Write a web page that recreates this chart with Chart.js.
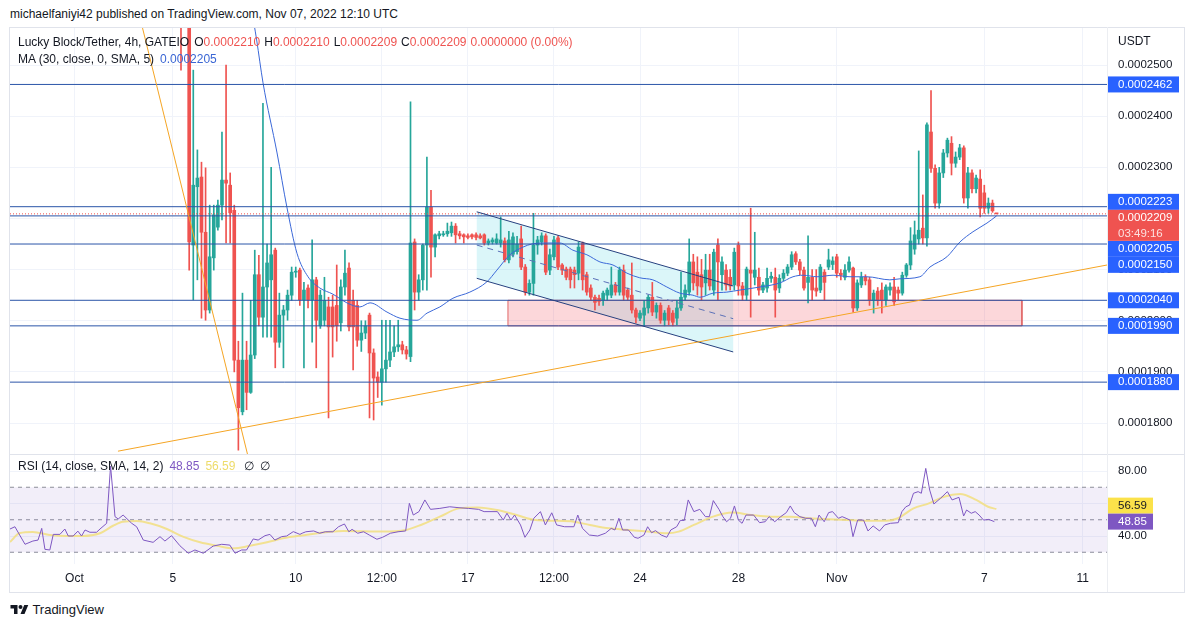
<!DOCTYPE html>
<html>
<head>
<meta charset="utf-8">
<script src="https://cdn.jsdelivr.net/npm/chart.js@4/dist/chart.umd.min.js"></script>
<style>
html,body{margin:0;padding:0;background:#fff;}
#wrap{position:relative;width:1194px;height:627px;overflow:hidden;font-family:"Liberation Sans",Arial,sans-serif;color:#131722;}
canvas{position:absolute;left:0;}
#main{top:27px;}
#rsi{top:454px;}
.t{position:absolute;white-space:nowrap;font-size:12px;line-height:14px;z-index:5;}
.t span{margin-left:6px;}
.t span.o{margin-left:4px;}
.ln{position:absolute;background:#e0e3eb;z-index:4;}
</style>
</head>
<body>
<div id="wrap">
  <div class="t" style="left:10px;top:7px;">michaelfaniyi42 published on TradingView.com, Nov 07, 2022 12:10 UTC</div>
  <canvas id="main" width="1194" height="427"></canvas>
  <canvas id="rsi" width="1194" height="138"></canvas>
  <div class="ln" style="left:9px;top:27px;width:1175px;height:1px;"></div>
  <div class="ln" style="left:9px;top:592px;width:1175px;height:1px;"></div>
  <div class="ln" style="left:9px;top:27px;width:1px;height:565px;"></div>
  <div class="ln" style="left:1184px;top:27px;width:1px;height:566px;"></div>
  <div class="ln" style="left:9px;top:454px;width:1175px;height:1px;"></div>
  <div class="ln" style="left:1107px;top:27px;width:1px;height:565px;background:#eceef2;"></div>
  <div class="t" style="left:18px;top:35px;">Lucky Block/Tether, 4h, GATEIO<span class="o" style="margin-left:5px">O<b style="font-weight:normal;color:#ef5350">0.0002210</b></span><span class="o">H<b style="font-weight:normal;color:#ef5350">0.0002210</b></span><span class="o">L<b style="font-weight:normal;color:#ef5350">0.0002209</b></span><span class="o">C<b style="font-weight:normal;color:#ef5350">0.0002209</b></span><span class="o" style="color:#ef5350">0.0000000 (0.00%)</span></div>
  <div class="t" style="left:18px;top:52px;">MA (30, close, 0, SMA, 5)<span style="color:#3a66d4">0.0002205</span></div>
  <div class="t" style="left:1118px;top:34px;">USDT</div>
  <div class="t" style="left:18px;top:459px;">RSI (14, close, SMA, 14, 2)<span style="color:#7e57c2">48.85</span><span style="color:#eedc6a">56.59</span><span style="margin-left:9px">∅</span><span>∅</span></div>
  <div class="t" style="left:10px;top:602px;font-size:13px;line-height:15px;">
    <svg width="19" height="13" viewBox="0 0 36 26" style="vertical-align:-2px"><path d="M14 22H7V11H0V4h14v18z M28 22h-8l7.5-18h8L28 22z" fill="#131722"/><circle cx="20" cy="8" r="4" fill="#131722"/></svg> TradingView
  </div>
</div>
<script>
// ---------------- DATA ----------------
// prices are written in units of 1e-7 USDT (e.g. 2209 = 0.0002209)
const PRICE_UNIT = 1e-7;
// time axis unit: days since Oct 1 2022 00:00 UTC
const lastCandleDay = 37.5;        // Nov 7 12:00 (4h candle)
const candleStepDays = 1 / 6;      // 4h

const opens = [2660,2600,2620,2148,2262,2281,2173,2021,2123,2183,2226,2275,2265,2216,1923,1822,1923,1860,1933,2090,
2007,2066,2080,2138,1958,2011,2021,2050,2095,2099,2041,2064,2041,2080,1990,2001,2027,2027,2030,1996,
2066,2103,2040,2030,1962,1976,2011,1937,1890,1880,1906,1923,1939,1949,1953,1943,1930,2154,2056,2080,
2148,2222,2144,2166,2168,2170,2172,2185,2170,2168,2166,2168,2168,2166,2168,2152,2154,2152,2152,2156,
2119,2130,2135,2160,2105,2056,2073,2148,2154,2166,2099,2125,2162,2109,2101,2101,2099,2093,2152,2090,
2064,2046,2044,2040,2050,2050,2070,2056,2099,2060,2050,2021,2005,2011,2025,2046,2017,2030,2001,2025,
2015,2005,2025,2046,2056,2115,2095,2090,2074,2099,2060,2148,2090,2099,2085,2070,2148,2068,2050,2099,
2085,2085,2060,2064,2083,2085,2064,2083,2093,2105,2131,2115,2099,2075,2085,2064,2060,2095,2105,2110,
2125,2093,2085,2099,2103,2025,2070,2085,2080,2040,2058,2060,2041,2060,2066,2060,2054,2089,2109,2140,
2160,2181,2162,2369,2298,2230,2289,2328,2347,2308,2320,2338,2240,2289,2258,2277,2250,2220,2230,2210];
const highs = [2700,2640,2680,2490,2334,2310,2299,2226,2226,2236,2369,2500,2289,2226,1960,2054,1960,2040,2138,2128,
2425,2150,2300,2142,2054,2030,2060,2105,2105,2103,2075,2070,2158,2085,2060,2085,2046,2050,2109,2080,
2138,2113,2060,2040,2000,2000,2015,1945,1900,2001,2001,2001,1990,2001,1960,1950,2428,2160,2090,2150,
2320,2255,2170,2175,2175,2191,2193,2190,2175,2170,2170,2170,2172,2170,2170,2160,2162,2170,2203,2162,
2175,2172,2165,2185,2110,2080,2210,2165,2172,2170,2140,2165,2166,2112,2105,2105,2105,2154,2154,2095,
2070,2050,2050,2058,2064,2105,2075,2105,2109,2064,2113,2025,2020,2040,2050,2075,2035,2035,2020,2030,
2020,2040,2095,2070,2160,2130,2125,2120,2130,2130,2140,2160,2125,2110,2100,2142,2154,2075,2105,2220,
2173,2103,2075,2103,2095,2103,2090,2100,2110,2135,2135,2120,2105,2166,2100,2100,2110,2100,2140,2125,
2130,2100,2110,2125,2105,2080,2095,2090,2085,2060,2065,2074,2070,2074,2085,2066,2095,2112,2182,2195,
2332,2246,2387,2450,2305,2300,2335,2357,2360,2330,2345,2342,2300,2295,2285,2295,2265,2240,2236,2210];
const lows = [2490,2580,2099,2041,2080,2005,2001,2015,2099,2177,2197,2152,2152,1900,1747,1816,1826,1858,1926,1990,
1968,1968,1968,1908,1948,1908,2001,2040,2085,2030,1908,2025,1958,1908,1985,1990,1810,1929,1960,1980,
2050,1980,1904,1950,1940,1965,1810,1806,1850,1835,1880,1910,1930,1940,1935,1925,1920,2021,2040,2060,
2060,2085,2125,2160,2165,2165,2165,2152,2160,2152,2160,2160,2158,2160,2148,2148,2150,2150,2144,2115,
2113,2125,2130,2100,2050,2050,2050,2130,2148,2090,2090,2119,2100,2090,2080,2064,2064,2080,2060,2050,
2040,2021,2030,2030,2040,2045,2050,2050,2040,2040,2015,1996,2000,1990,2015,2010,2005,1995,1990,1992,
1990,1992,2020,2040,2050,2060,2050,2040,2050,2060,2050,2040,2060,2060,2060,2060,2050,2040,2040,2007,
2070,2050,2055,2056,2075,2007,2055,2078,2088,2100,2110,2090,2060,2035,2040,2048,2055,2040,2100,2100,
2085,2080,2080,2095,2017,2020,2065,2070,2030,2015,2030,2015,2030,2050,2030,2040,2050,2085,2100,2130,
2150,2150,2146,2290,2220,2220,2280,2320,2285,2300,2315,2230,2220,2250,2250,2203,2210,2210,2212,2209];
const closes = [2600,2620,2154,2265,2279,2173,2021,2125,2207,2226,2275,2269,2211,1923,1830,1923,1860,1933,2090,2007,
2066,2113,2129,1958,2011,2021,2050,2095,2097,2041,2060,2041,2080,2001,2050,2040,1988,1988,1990,2066,
2093,1988,1988,1962,1976,1990,1937,1888,1880,1906,1923,1939,1949,1953,1943,1935,2152,2056,2080,2148,
2222,2144,2168,2170,2170,2175,2185,2168,2166,2164,2163,2164,2163,2162,2152,2156,2158,2160,2158,2119,
2158,2164,2150,2105,2056,2073,2148,2158,2166,2095,2129,2158,2105,2099,2085,2080,2090,2144,2080,2056,
2046,2036,2038,2054,2060,2070,2056,2099,2050,2046,2021,2007,2015,2025,2046,2017,2030,2001,2015,2001,
1997,2025,2046,2060,2115,2074,2068,2066,2099,2068,2134,2115,2115,2070,2068,2134,2068,2050,2101,2093,
2099,2060,2070,2083,2087,2060,2083,2093,2105,2129,2115,2099,2064,2085,2060,2058,2105,2075,2119,2117,
2093,2089,2099,2115,2025,2074,2085,2078,2041,2054,2040,2041,2066,2066,2037,2054,2089,2109,2156,2168,
2177,2162,2383,2298,2230,2289,2328,2353,2308,2320,2338,2240,2289,2258,2279,2220,2220,2230,2215,2209];

// MA (30, close, SMA)
const maDays = [7.2,7.41,7.67,8.24,8.64,9.05,9.50,9.98,10.51,11.08,11.61,12.02,12.71,13.24,13.93,14.34,14.86,15.39,16.08,16.77,
17.18,17.71,18.24,18.60,19.05,19.74,20.27,20.84,21.37,21.90,22.47,22.99,23.52,24.09,24.62,25.15,25.44,25.97,26.53,27.06,
27.88,28.69,29.22,29.63,30.20,30.85,31.54,32.23,33.16,33.57,34.38,34.79,35.48,36.01,36.54,37.11,37.5];
const maValues = [2610,2549,2465,2328,2222,2132,2086,2064,2052,2035,2027,2035,2017,2005,2001,2015,2027,2044,2056,2076,
2099,2129,2144,2150,2152,2152,2138,2129,2115,2109,2093,2084,2080,2066,2054,2050,2046,2054,2056,2060,
2066,2074,2086,2089,2086,2089,2086,2086,2080,2082,2086,2105,2125,2154,2174,2191,2205];

// RSI (14) and its SMA (14)
const rsiDays = [-2.62,-2.42,-2.01,-1.69,-1.48,-1.33,-1.20,-1.00,-0.86,-0.59,-0.39,-0.25,-0.05,0.14,0.29,0.43,0.63,0.90,1.04,1.31,
1.47,1.65,1.78,1.98,2.33,2.53,2.80,3.20,3.48,3.68,3.95,4.29,4.63,4.90,5.24,5.64,5.99,6.32,6.53,6.80,
7.00,7.27,7.47,7.75,7.95,8.15,8.43,8.63,8.90,9.17,9.26,9.41,9.73,9.97,10.20,10.51,10.74,10.98,11.16,11.29,
11.52,11.76,11.99,12.30,12.53,12.85,13.16,13.47,13.62,13.78,14.01,14.25,14.48,14.86,15.26,15.64,16.03,16.43,16.66,17.20,
17.44,17.59,17.75,17.90,18.14,18.32,18.52,18.68,18.95,19.15,19.41,19.61,19.93,20.31,20.47,20.66,20.94,21.28,21.59,21.83,
21.98,22.14,22.29,22.53,22.77,22.92,23.16,23.31,23.47,23.63,23.86,24.09,24.25,24.49,24.64,24.80,24.96,25.19,25.43,25.66,
25.82,25.98,26.21,26.37,26.52,26.68,26.84,27.00,27.15,27.31,27.62,27.86,28.09,28.25,28.48,28.72,28.95,29.11,29.27,29.50,
29.74,29.97,30.13,30.28,30.49,30.67,30.83,31.07,31.22,31.38,31.54,31.66,31.85,32.09,32.27,32.48,32.74,32.95,33.18,33.50,
33.65,33.81,33.96,34.12,34.31,34.44,34.62,34.78,34.95,35.22,35.50,35.69,35.97,36.16,36.28,36.47,36.63,36.79,36.97,37.18,37.41];
const rsiValues = [44.3,45.7,34.9,36.9,37.5,44.7,31.8,31.4,41.0,41.0,44.3,40.0,40.0,43.0,40.0,43.7,42.3,42.3,44.3,47.8,
83.0,51.9,50.5,52.9,47.8,45.7,37.5,36.1,39.6,36.9,40.2,34.0,29.4,31.4,29.4,33.8,34.9,34.4,29.4,31.4,
31.4,38.2,37.5,40.2,41.0,37.5,39.6,40.0,42.7,41.0,41.7,42.6,43.1,41.7,42.6,42.6,45.7,47.4,42.6,44.1,
41.7,42.6,40.6,38.0,39.2,41.7,42.6,43.1,60.1,52.9,55.0,62.2,56.4,57.0,58.0,57.4,57.0,56.4,55.0,55.0,
49.8,54.0,49.8,52.9,46.8,39.2,43.7,50.9,55.0,46.8,54.3,46.8,45.7,45.7,52.9,44.7,40.6,40.0,41.7,44.7,
43.7,50.9,43.7,43.7,39.2,38.6,40.6,45.7,42.0,43.3,40.6,39.2,43.7,45.7,49.6,49.6,62.2,55.0,56.4,51.9,
51.9,61.8,56.4,51.9,48.8,50.9,58.5,49.8,47.8,52.9,52.9,48.2,48.8,51.9,48.8,51.9,54.4,58.5,54.4,51.9,
50.9,50.9,45.7,52.9,48.8,54.4,55.0,50.9,51.9,50.9,49.8,39.6,49.8,49.8,43.1,46.2,43.1,46.8,47.8,48.2,
55.0,58.0,59.0,66.3,67.3,66.3,81.6,68.3,59.7,63.2,67.3,62.2,63.8,52.3,56.0,54.0,55.0,52.9,49.8,50.2,48.85];
const rsiMaDays = [-2.62,-2.22,-1.69,-1.00,-0.32,0.35,1.04,1.57,1.97,2.54,3.07,3.76,4.41,5.11,5.80,6.45,7.14,7.83,8.48,9.17,
10.96,12.55,13.48,14.09,14.86,15.64,16.41,17.20,17.98,18.76,19.54,20.31,20.96,21.74,22.53,23.32,24.09,24.57,25.19,25.97,
26.76,27.54,28.32,29.10,29.89,30.67,31.45,32.22,33.03,33.49,34.12,34.75,35.36,36.01,36.67,37.15,37.49];
const rsiMaValues = [36.3,41.8,42.5,40.6,40.0,40.0,41.7,46.3,48.8,49.2,47.8,44.3,39.6,36.1,34.0,32.4,34.0,36.1,38.6,40.2,
43.1,42.7,43.7,46.8,51.9,57.0,57.6,56.0,52.9,49.8,49.4,48.8,46.8,44.7,43.7,42.7,41.7,42.7,46.8,51.9,
54.4,52.9,51.9,51.9,50.9,50.3,49.8,49.4,49.4,50.9,57.0,60.1,64.2,65.8,62.2,58.0,56.59];

// drawings (anchor points: day, price in 1e-7 USDT)
const levelPrices = [2462, 2223, 2205, 2150, 2040, 1990, 1880];
const currentPrice = 2209;
const countdownText = '03:49:16';
const steepTrendDays = [2.5, 7.3];     const steepTrendValues = [2625, 1688];
const riseTrendDays = [1.77, 41.99];   const riseTrendValues = [1745, 2109];
const channelDays = [16.36, 26.79];
const channelUpper = [2213, 2068];
const channelMid = [2148, 2004];
const channelLower = [2083, 1939];
const zoneDays = [17.63, 38.53];
const zoneTop = 2040, zoneBottom = 1990;

// axes
const timeTickDays = [0, 4, 9, 12.5, 16, 19.5, 23, 27, 31, 37, 41];
const timeTickLabels = ['Oct', '5', '10', '12:00', '17', '12:00', '24', '28', 'Nov', '7', '11'];
const priceTickValues = [1800, 1900, 2000, 2100, 2200, 2300, 2400, 2500];
const rsiTickValues = [40, 60, 80];
const rsiBandValues = [70, 50, 30];
const rsiLast = 48.85, rsiMaLast = 56.59;

// ---------------- CHART ----------------
const U = PRICE_UNIT;
const X_MIN = -2.62, X_MAX = 41.99;
const Y_MIN = 1739.5, Y_MAX = 2574.3;
const R_MIN = 22.77, R_MAX = 89.85;
const UP = '#26a69a', DOWN = '#ef5350';
const GRID = '#f0f3fa';
const LEVEL = '#2b55a8';
const FONT = '"Liberation Sans", Arial, sans-serif';

const N = opens.length;
const candleDays = opens.map((_, i) => lastCandleDay - (N - 1 - i) * candleStepDays);
const candleColors = opens.map((o, i) => closes[i] >= o ? UP : DOWN);

function seg(xs, ys, color, extra) {
  return Object.assign({
    type: 'line',
    data: xs.map((x, i) => ({ x: x, y: ys[i] * U })),
    borderColor: color, borderWidth: 1, pointRadius: 0, fill: false, tension: 0, order: 1
  }, extra || {});
}
function rseg(xs, ys, color, extra) {
  return Object.assign({
    type: 'line',
    data: xs.map((x, i) => ({ x: x, y: ys[i] })),
    borderColor: color, borderWidth: 1, pointRadius: 0, fill: false, tension: 0, order: 1
  }, extra || {});
}

const timeAxis = (showLabels) => ({
  type: 'linear', min: X_MIN, max: X_MAX, offset: false,
  afterBuildTicks: s => { s.ticks = timeTickDays.map(v => ({ value: v })); },
  afterFit: s => { s.height = showLabels ? 28 : 0; s.paddingLeft = 0; s.paddingRight = 0; },
  grid: { color: GRID, drawTicks: false, offset: false },
  border: { display: false },
  ticks: {
    display: showLabels, autoSkip: false, maxRotation: 0, padding: 7,
    color: '#131722', font: { family: FONT, size: 12 },
    callback: (v, i) => timeTickLabels[i]
  }
});

const mainDatasets = [];
levelPrices.forEach(v => mainDatasets.push(seg([X_MIN, X_MAX], [v, v], LEVEL, { order: 2 })));
mainDatasets.push(seg([X_MIN, X_MAX], [currentPrice, currentPrice], DOWN, { borderDash: [1, 2], order: 2 }));
mainDatasets.push(seg(steepTrendDays, steepTrendValues, '#f5a524', { order: 1 }));
mainDatasets.push(seg(riseTrendDays, riseTrendValues, '#f5a524', { order: 1 }));
mainDatasets.push(seg(channelDays, channelUpper, '#26407f', { order: 1 }));
mainDatasets.push(seg(channelDays, channelLower, '#26407f', { order: 1 }));
mainDatasets.push(seg(channelDays, channelMid, '#5a70b8', { order: 1, borderDash: [6, 5] }));
mainDatasets.push(seg(maDays, maValues, '#3b68d8', { order: 3, cubicInterpolationMode: 'monotone' }));
mainDatasets.push(seg([channelDays[0], channelDays[1], channelDays[1], channelDays[0], channelDays[0]],
  [channelUpper[0], channelUpper[1], channelLower[1], channelLower[0], channelUpper[0]],
  'rgba(0,0,0,0)', { borderWidth: 0, fill: 'shape', backgroundColor: 'rgba(0,188,212,0.14)', order: 30 }));
mainDatasets.push(seg([zoneDays[0], zoneDays[1], zoneDays[1], zoneDays[0], zoneDays[0]],
  [zoneTop, zoneTop, zoneBottom, zoneBottom, zoneTop],
  '#e06666', { fill: 'shape', backgroundColor: 'rgba(242,54,69,0.2)', order: 29 }));
mainDatasets.push({
  type: 'bar', order: 11, grouped: false, barThickness: 1, borderWidth: 0, borderSkipped: false,
  data: candleDays.map((d, i) => ({ x: d, y: [lows[i] * U, highs[i] * U] })),
  backgroundColor: candleColors
});
mainDatasets.push({
  type: 'bar', order: 10, grouped: false, barThickness: 3, minBarLength: 1, borderWidth: 0, borderSkipped: false,
  data: candleDays.map((d, i) => ({ x: d, y: [opens[i] * U, closes[i] * U] })),
  backgroundColor: candleColors
});

function tag(ctx, x, top, w, h, bg, lines, fg) {
  ctx.fillStyle = bg;
  ctx.fillRect(x, top, w, h);
  ctx.textBaseline = 'middle';
  ctx.textAlign = 'left';
  ctx.font = '11.5px ' + FONT;
  lines.forEach((ln, k) => {
    ctx.fillStyle = ln.color || fg;
    ctx.fillText(ln.text, x + 10, top + 8 + k * 15.5);
  });
}

const priceTags = {
  id: 'priceTags',
  afterDraw(chart) {
    const ctx = chart.ctx, y = chart.scales.y;
    const x = y.left + 1, w = 71, h = 16;
    const cy = y.getPixelForValue(currentPrice * U);
    const redTop = cy - 4, redH = 31;
    const tags = levelPrices.map(v => ({ v: v, c: y.getPixelForValue(v * U) }));
    const above = tags.filter(t => t.c < cy).sort((a, b) => b.c - a.c);
    const below = tags.filter(t => t.c >= cy).sort((a, b) => a.c - b.c);
    let lim = redTop;
    above.forEach(t => { const bottom = Math.min(t.c + h / 2, lim); t.top = bottom - h; lim = t.top; });
    lim = redTop + redH;
    below.forEach(t => { const top = Math.max(t.c - h / 2, lim); t.top = top; lim = top + h; });
    ctx.save();
    tags.forEach(t => tag(ctx, x, t.top, w, h, '#2962ff', [{ text: (t.v * U).toFixed(7) }], '#ffffff'));
    tag(ctx, x, redTop, w, redH, '#ef5350',
      [{ text: (currentPrice * U).toFixed(7) }, { text: countdownText, color: 'rgba(255,255,255,0.82)' }], '#ffffff');
    ctx.restore();
  }
};

new Chart(document.getElementById('main'), {
  type: 'line',
  data: { datasets: mainDatasets },
  options: {
    responsive: false, animation: false, devicePixelRatio: 1, events: [],
    layout: { padding: { left: 10, right: 10, top: 0, bottom: 0 } },
    plugins: { legend: { display: false }, tooltip: { enabled: false } },
    scales: {
      x: timeAxis(false),
      y: {
        type: 'linear', position: 'right', min: Y_MIN * U, max: Y_MAX * U,
        afterBuildTicks: s => { s.ticks = priceTickValues.map(v => ({ value: v * U })); },
        afterFit: s => { s.width = 77; s.paddingTop = 0; s.paddingBottom = 0; },
        grid: { color: GRID, drawTicks: false },
        border: { display: false },
        ticks: { padding: 11, color: '#131722', font: { family: FONT, size: 11.5 }, callback: v => v.toFixed(7) }
      }
    }
  },
  plugins: [priceTags]
});

const rsiTags = {
  id: 'rsiTags',
  afterDraw(chart) {
    const ctx = chart.ctx, y = chart.scales.y;
    const x = y.left + 1, w = 45, h = 16;
    const pc = y.getPixelForValue(rsiLast);
    const yc = y.getPixelForValue(rsiMaLast);
    const pTop = pc - h / 2;
    const yTop = Math.min(yc + h / 2, pTop) - h;
    ctx.save();
    tag(ctx, x, yTop, w, h, '#fbe24a', [{ text: rsiMaLast.toFixed(2) }], '#131722');
    tag(ctx, x, pTop, w, h, '#7e57c2', [{ text: rsiLast.toFixed(2) }], '#ffffff');
    ctx.restore();
  }
};

const rsiDatasets = [
  rseg(rsiDays, rsiValues, '#7e57c2', { order: 1 }),
  rseg(rsiMaDays, rsiMaValues, 'rgba(242,222,120,0.8)', { order: 2, borderWidth: 2, cubicInterpolationMode: 'monotone' }),
  rseg([X_MIN, X_MAX], [rsiBandValues[0], rsiBandValues[0]], '#8c8f99', { order: 5, borderDash: [4, 4], fill: '+1', backgroundColor: 'rgba(126,87,194,0.1)' }),
  rseg([X_MIN, X_MAX], [rsiBandValues[2], rsiBandValues[2]], '#8c8f99', { order: 5, borderDash: [4, 4] }),
  rseg([X_MIN, X_MAX], [rsiBandValues[1], rsiBandValues[1]], '#8c8f99', { order: 5, borderDash: [4, 4] })
];

new Chart(document.getElementById('rsi'), {
  type: 'line',
  data: { datasets: rsiDatasets },
  options: {
    responsive: false, animation: false, devicePixelRatio: 1, events: [],
    layout: { padding: { left: 10, right: 10, top: 1, bottom: 0 } },
    plugins: { legend: { display: false }, tooltip: { enabled: false } },
    scales: {
      x: timeAxis(true),
      y: {
        type: 'linear', position: 'right', min: R_MIN, max: R_MAX,
        afterBuildTicks: s => { s.ticks = rsiTickValues.map(v => ({ value: v })); },
        afterFit: s => { s.width = 77; s.paddingTop = 0; s.paddingBottom = 0; },
        grid: { color: GRID, drawTicks: false },
        border: { display: false },
        ticks: { padding: 11, color: '#131722', font: { family: FONT, size: 11.5 }, callback: v => v.toFixed(2) }
      }
    }
  },
  plugins: [rsiTags]
});
</script>
</body>
</html>
